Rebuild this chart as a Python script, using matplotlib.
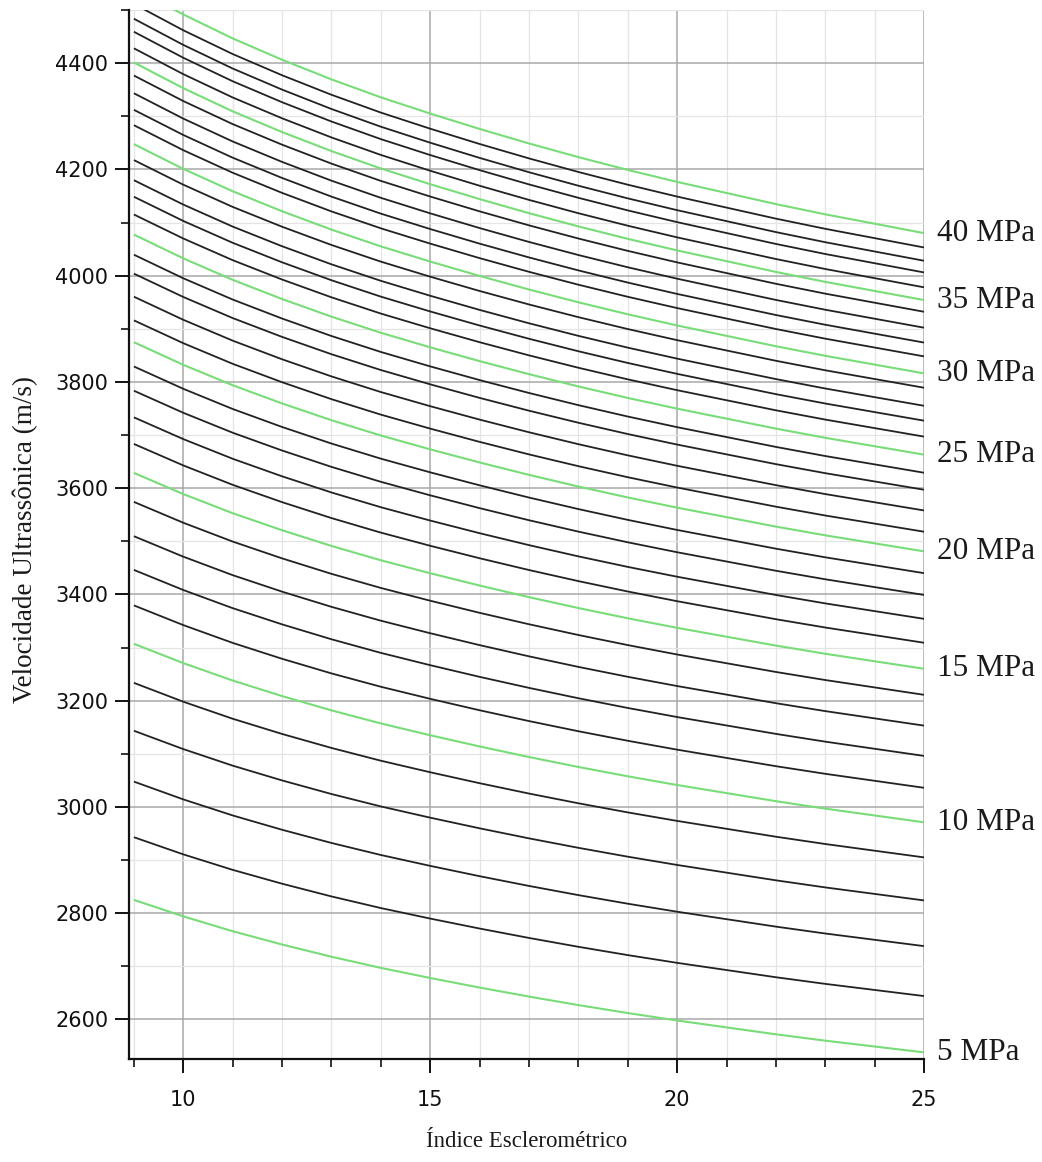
import matplotlib
matplotlib.use("Agg")
import matplotlib.pyplot as plt
from matplotlib.ticker import MultipleLocator
import numpy as np

# Strength levels (MPa) and velocity read at R = 25 for each curve
levels = list(range(5, 41))
v_at_25 = [2538, 2644, 2738, 2824, 2905, 2971, 3036, 3096, 3153, 3211,
           3260, 3309, 3354, 3399, 3440, 3481, 3518, 3558, 3597, 3629,
           3663, 3697, 3727, 3755, 3789, 3816, 3848, 3874, 3902, 3932,
           3954, 3978, 4006, 4028, 4053, 4080]

# Rebound index positions and the 5 MPa reference curve read along them
rebound = [9, 10, 11, 12, 13, 14, 15, 16, 17, 18, 19, 20, 21, 22, 23, 24, 25]
ref_5mpa = [2825, 2794, 2766, 2741, 2718, 2697, 2678, 2660, 2643, 2627,
            2612, 2598, 2585, 2572, 2560, 2549, 2538]

labelled = [5, 10, 15, 20, 25, 30, 35, 40]

GREEN = "#78dc78"
BLACK = "#222222"
SERIF = ["Liberation Serif", "DejaVu Serif"]

fig = plt.figure(figsize=(10.42, 11.62), dpi=100)
ax = fig.add_axes([0.1241, 0.0884, 0.7627, 0.903])

ref = np.array(ref_5mpa, dtype=float)
x = np.array(rebound, dtype=float)
for lev, vend in zip(levels, v_at_25):
    y = ref * vend / ref[-1]
    is_green = lev in labelled
    ax.plot(x, y, color=GREEN if is_green else BLACK,
            lw=1.5 if is_green else 1.3, zorder=3 if is_green else 2,
            solid_capstyle="butt")
    if is_green:
        ax.annotate(f"{lev} MPa", xy=(25, vend), xytext=(9, 0),
                    textcoords="offset points", va="center", ha="left",
                    fontsize=22.5, family=SERIF, color="#1a1a1a",
                    annotation_clip=False)

ax.set_xlim(8.907, 25)
ax.set_ylim(2525, 4500)
ax.xaxis.set_major_locator(MultipleLocator(5))
ax.xaxis.set_minor_locator(MultipleLocator(1))
ax.yaxis.set_major_locator(MultipleLocator(200))
ax.yaxis.set_minor_locator(MultipleLocator(100))

ax.set_axisbelow(True)
ax.grid(which="major", color="#a8a8a8", lw=1.1)
ax.grid(which="minor", color="#e4e4e4", lw=0.9)

for s in ("top", "right"):
    ax.spines[s].set_visible(False)
for s in ("left", "bottom"):
    ax.spines[s].set_linewidth(1.6)
    ax.spines[s].set_color("#111111")

ax.tick_params(which="major", direction="out", length=10, width=1.4,
               labelsize=15, colors="#111111", pad=5)
ax.tick_params(axis="x", which="major", pad=12)
ax.tick_params(which="minor", direction="out", length=6, width=1.2,
               colors="#111111")
for lab in ax.get_xticklabels() + ax.get_yticklabels():
    lab.set_family(["DejaVu Sans"])

ax.set_xlabel("Índice Esclerométrico", fontsize=16.5, family=SERIF,
              color="#1a1a1a")
ax.set_ylabel("Velocidade Ultrassônica (m/s)", fontsize=19.5, family=SERIF,
              color="#1a1a1a")
ax.xaxis.set_label_coords(0.5, -0.068)
ax.yaxis.set_label_coords(-0.115, 0.495)

fig.savefig("out.png", dpi=100)
